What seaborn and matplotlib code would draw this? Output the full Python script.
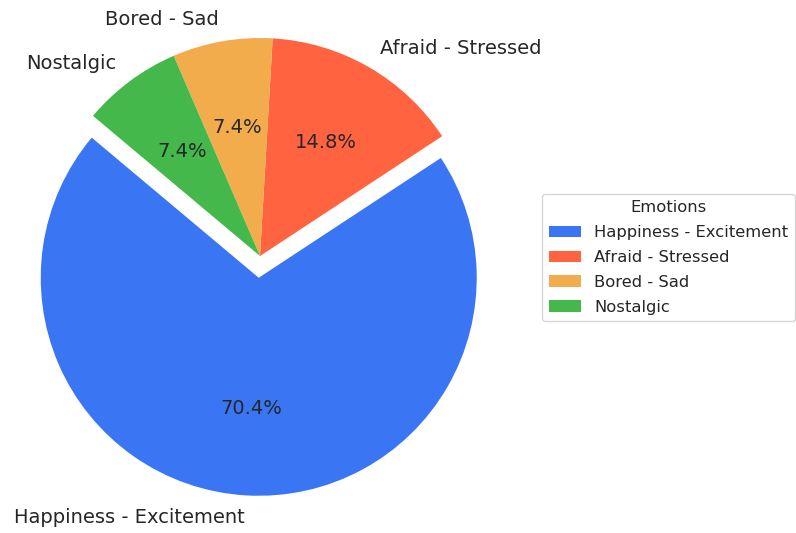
import matplotlib
matplotlib.use("Agg")
import matplotlib.pyplot as plt
import seaborn as sns

emotions = ["Happiness - Excitement", "Afraid - Stressed", "Bored - Sad", "Nostalgic"]
counts = [19, 4, 2, 2]
colors = ["#3A75F4", "#FF6340", "#F2AC4B", "#45B84B"]
explode = [0.1, 0, 0, 0]

sns.set_theme(style="white")
plt.rcParams["font.family"] = ["DejaVu Sans"]

fig = plt.figure(figsize=(7.96, 5.33), dpi=100)
W, H = 796, 533
size = 545
cx, cy = 260, H - 256
ax = fig.add_axes([(cx - size / 2) / W, (cy - size / 2) / H, size / W, size / H])

wedges, texts, autotexts = ax.pie(
    counts,
    labels=emotions,
    colors=colors,
    explode=explode,
    autopct="%1.1f%%",
    startangle=140,
    textprops={"fontsize": 14},
    wedgeprops={"linewidth": 0},
)

leg = fig.legend(
    wedges,
    emotions,
    title="Emotions",
    loc="center left",
    bbox_to_anchor=(542 / W, (H - 257.5) / H),
    bbox_transform=fig.transFigure,
    borderaxespad=0,
    fontsize=11.75,
    title_fontsize=11.75,
    labelspacing=0.6,
    frameon=True,
)

fig.savefig("out.png", dpi=100)
